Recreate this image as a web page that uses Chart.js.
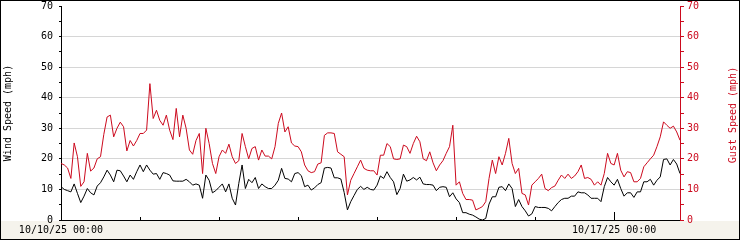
<!DOCTYPE html>
<html>
<head>
<meta charset="utf-8">
<script src="https://cdn.jsdelivr.net/npm/chart.js@4"></script>
<style>
html,body{margin:0;padding:0;background:#fff;}
canvas{display:block;}
</style>
</head>
<body>
<canvas id="c" width="740" height="240"></canvas>
<script>
// Hourly samples starting 10/10/25 00:00
const startDay = 10;
const hourCount = 189;
const categories = [];
for (let i = 0; i < hourCount; i++) {
  const d = startDay + Math.floor(i / 24);
  const h = i % 24;
  categories.push('10/' + String(d).padStart(2, '0') + '/25 ' + String(h).padStart(2, '0') + ':00');
}
const labelledTicks = ['10/10/25 00:00', '10/17/25 00:00'];

const windSpeed = [
  10.9,10,9.6,9.2,11.8,8.7,5.7,7.8,10.3,8.9,
  8.2,11.1,12.2,14.1,16.3,14.7,12.5,16.3,16.1,14.4,
  12.5,14.7,13.3,15.8,18,15.8,18,16.3,15,15.2,
  13.3,15.5,15.2,14.7,12.8,12.7,12.7,12.7,13.3,12.5,
  11.4,11.8,11.4,7.1,14.7,13,8.9,9.6,10.7,11.8,
  9.2,11.8,7.1,4.9,12,18,10.3,13.3,
  12.2,13.9,10.3,11.8,10.9,10.3,10.3,11.4,13,16.9,
  13.6,13.4,12.5,15.2,15.5,14.5,10.9,11.4,9.8,10.5,
  11.6,12.2,17,17.2,17,13.8,13.8,13.4,9,3.3,
  6,8,10,11,10,10.7,10,9.8,11.4,14.4,
  13.6,15.8,13.9,12.5,8.3,10.3,15,12.7,13.1,13.9,
  13.1,14,11.8,11.6,11.6,11.4,9.6,10.7,10.9,10.7,
  7.6,8.9,6.9,5.7,2.4,2.4,1.9,1.6,1,0.3,
  0,0.5,5.2,
  7.6,7.6,10.7,10.9,9.6,11.8,10.3,4.4,6.7,4.4,
  3,1.3,2,4.4,4.1,4.1,4.1,3.8,3,4.4,
  5.7,6.7,7.1,7.1,7.8,7.8,9.2,8.9,8.9,8.2,
  7.1,7.1,7.1,6,10.9,13.9,12.5,11.4,13.3,10.3,
  7.8,8.9,8.9,7.4,9.2,9.2,12.5,12.5,13.3,11.4,
  13,14.1,19.8,20,18,19.8,18.3,15.2
];

const gustSpeed = [
  18.5,18,17,13.6,25.2,20.7,11,12.5,21.8,16,
  17,20,20.7,28,33.7,34.3,27.2,30,32,30.5,
  22.6,26,24.2,26,28.3,28.3,29.4,44.6,33.2,35.9,
  32.6,31,34.3,29.4,26.3,36.5,27.2,34.3,30,22.9,
  21.5,26,28.3,15.2,30,25,18.5,15.2,20.7,22.9,
  21.8,24.8,20.7,18.5,19.4,28.3,24,20,
  23.4,24,19.6,22.9,20.9,20.9,20,24,31.6,35,
  28.8,30.5,25.2,24.2,24,22.3,18,16.1,15.5,15.8,
  18.3,18.7,27.7,28.5,28.5,28.3,22.3,21.5,20.7,8.2,
  13,15.2,17.4,19.6,16.9,16.3,16.1,16.1,14.7,21.2,
  21.2,25,24,20,19.8,20,24.5,24,21.8,25,
  27.4,25.6,20,19.4,22.3,18.7,16.1,18,19.4,21.8,
  24,31,11.4,12.5,8.7,6.7,6.7,6.5,3.3,3.8,
  4.4,6,13.6,
  19.6,15.2,20.7,18,21.8,26.7,18.5,15.2,16.9,8.7,
  8.2,4.9,11.4,12.5,13.6,15,10.3,9.6,10.6,11.1,
  13,14.7,13.6,15,13.6,14.4,15.8,18,13.6,13.9,
  13.3,11.4,12.5,11.4,15.2,21.8,18.5,18,21.8,16.3,
  14.1,15.8,15.5,12.5,12.5,13.6,17.4,18.7,20,21.2,
  24,27.2,32.1,31,30,30.7,28.8,26.1
];

const yMin = 0, yMax = 70, yStep = 5, yLabelStep = 10;
const leftTitle = 'Wind Speed (mph)';
const rightTitle = 'Gust Speed (mph)';

const RED = '#cc0a1e';
const FONT = 'DejaVu Sans Mono';
Chart.defaults.font.family = FONT;
Chart.defaults.font.size = 10;
Chart.defaults.color = '#000';

const deco = {
  id: 'deco',
  beforeDraw(chart) {
    const c = chart.ctx, a = chart.chartArea;
    c.save();
    c.fillStyle = '#ffffff';
    c.fillRect(0, 0, chart.width, chart.height);
    c.fillStyle = '#f5f3ec';
    c.fillRect(0, a.bottom + 1, chart.width, chart.height - a.bottom - 1);
    c.restore();
  },
  afterDraw(chart) {
    const c = chart.ctx, a = chart.chartArea, xs = chart.scales.x;
    c.save();
    // x tick marks (every 24 h) pointing up into plot
    c.strokeStyle = '#000';
    c.lineWidth = 1;
    for (let i = 24; i < categories.length; i += 24) {
      const px = Math.round(xs.getPixelForValue(i)) + 0.5;
      const len = labelledTicks.includes(categories[i]) ? 8 : 3;
      c.beginPath();
      c.moveTo(px, a.bottom);
      c.lineTo(px, a.bottom - len);
      c.stroke();
    }
    // right axis title, reading bottom to top
    c.fillStyle = RED;
    c.font = '10px "' + FONT + '"';
    c.textAlign = 'center';
    c.textBaseline = 'middle';
    c.translate(733, (a.top + a.bottom) / 2 + 2);
    c.rotate(-Math.PI / 2);
    c.fillText(rightTitle, 0, 0);
    c.restore();
    // outer frame
    c.save();
    c.strokeStyle = '#000';
    c.lineWidth = 1;
    c.strokeRect(0.5, 0.5, chart.width - 1, chart.height - 1);
    c.restore();
  }
};

function noPad(s) { s.paddingTop = 0; s.paddingBottom = 0; }

new Chart(document.getElementById('c'), {
  type: 'line',
  data: {
    labels: categories,
    datasets: [
      { label: 'Gust Speed', data: gustSpeed, yAxisID: 'y2', borderColor: RED, borderWidth: 1, pointRadius: 0, tension: 0 },
      { label: 'Wind Speed', data: windSpeed, yAxisID: 'y', borderColor: '#000', borderWidth: 1, pointRadius: 0, tension: 0 }
    ]
  },
  options: {
    responsive: false,
    animation: false,
    events: [],
    layout: { padding: { top: 6, left: 0, right: 0, bottom: 0 } },
    plugins: { legend: { display: false }, tooltip: { enabled: false } },
    scales: {
      x: {
        type: 'category',
        offset: false,
        grid: { display: false, drawTicks: false },
        border: { display: true, color: '#000', width: 1 },
        ticks: {
          autoSkip: false, maxRotation: 0, minRotation: 0, padding: 4,
          color: '#000',
          callback: function (v, i) { return labelledTicks.includes(categories[i]) ? categories[i] : ''; }
        },
        afterFit(s) { s.height = 20; }
      },
      y: {
        position: 'left',
        min: yMin, max: yMax,
        border: { display: true, color: '#000', width: 1 },
        grid: {
          drawOnChartArea: true, tickLength: 2, tickColor: '#000',
          color: (ctx) => (ctx.tick && ctx.tick.value % yLabelStep === 0 && ctx.tick.value > yMin && ctx.tick.value < yMax) ? '#d6d6d6' : 'rgba(0,0,0,0)'
        },
        ticks: {
          stepSize: yStep, padding: 6, color: '#000',
          callback: (v) => (v % yLabelStep === 0 ? String(v) : '')
        },
        title: { display: true, text: leftTitle, color: '#000', padding: { top: 2, bottom: 0 }, font: { size: 10, family: FONT } },
        afterFit(s) { s.width = 61; noPad(s); }
      },
      y2: {
        position: 'right',
        min: yMin, max: yMax,
        border: { display: true, color: RED, width: 1 },
        grid: { drawOnChartArea: false, tickLength: 4, tickColor: RED, color: RED },
        ticks: {
          stepSize: yStep, padding: 3, color: RED,
          callback: (v) => (v % yLabelStep === 0 ? String(v) : '')
        },
        afterFit(s) { s.width = 60; noPad(s); }
      }
    }
  },
  plugins: [deco]
});
</script>
</body>
</html>
